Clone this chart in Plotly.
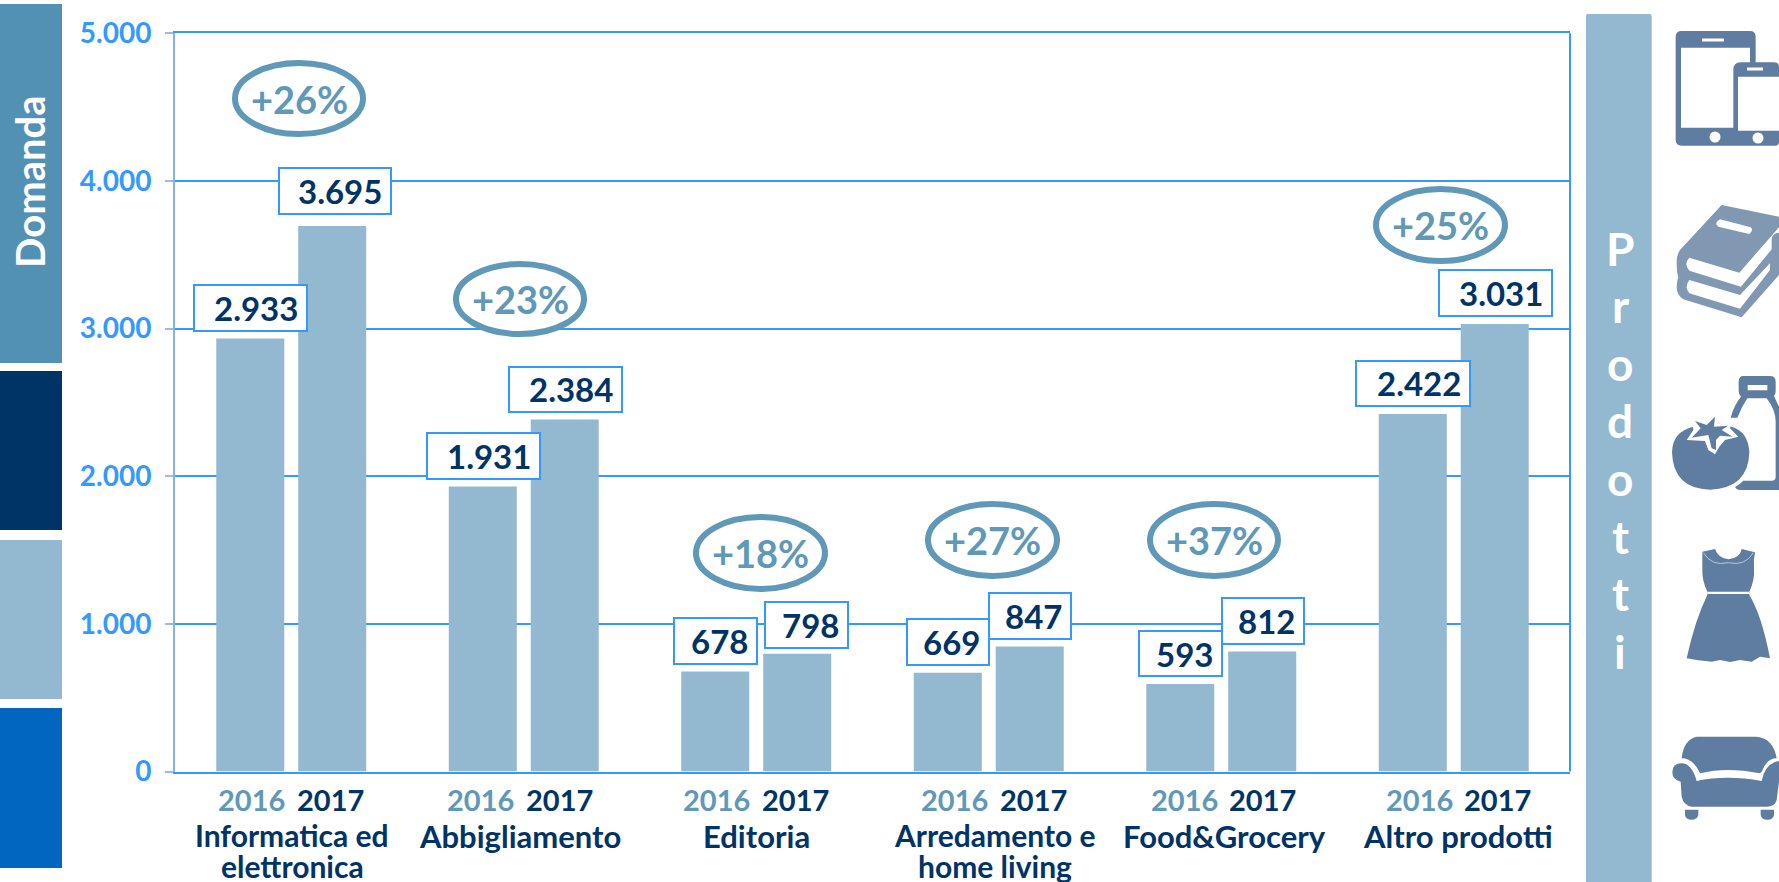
import re
import plotly.graph_objects as go

# ---------- data ----------
categories = ["Informatica ed elettronica", "Abbigliamento", "Editoria",
              "Arredamento e home living", "Food&Grocery", "Altro prodotti"]
category_lines = ["Informatica ed<br>elettronica", "Abbigliamento", "Editoria",
                  "Arredamento e<br>home living", "Food&Grocery", "Altro prodotti"]
values_2016 = [2933, 1931, 678, 669, 593, 2422]
values_2017 = [3695, 2384, 798, 847, 812, 3031]
growth = ["+26%", "+23%", "+18%", "+27%", "+37%", "+25%"]
y_ticks = [0, 1000, 2000, 3000, 4000, 5000]
years = ["2016", "2017"]

# ---------- page geometry (pixels) ----------
W, H = 1779, 882
PLOT_L, PLOT_R, PLOT_T, PLOT_B = 175, 1570, 33.3, 771.5

boxes_2016 = [(194, 307, 285, 331), (427, 540, 433, 479), (674, 757, 618, 664),
              (907, 989, 619, 665), (1139, 1222, 631, 676), (1356, 1470, 361, 406)]
boxes_2017 = [(279, 391, 168, 214), (509, 622, 367, 412), (765, 848, 602, 648),
              (989, 1071, 593, 639), (1222, 1304, 598, 644), (1439, 1552, 270, 316)]
ellipses = [(232, 366, 60, 137), (453, 587, 261, 337), (693, 828, 514, 592),
            (925, 1060, 501, 579), (1147, 1281, 501, 579), (1373, 1508, 186, 264)]
year_x_2016 = [251.5, 480.5, 716.5, 954, 1184, 1419]
year_x_2017 = [330, 559.5, 795.5, 1033, 1262, 1497]
name_x = [292, 520, 756, 995, 1224, 1458]

BLUE, DARK, BAR, TEAL = "#3399FF", "#003366", "#93B9D0", "#6098B8"
ICON, ICON2 = "#5F7DA0", "#8198B3"
FONT = "Lato"


def px(x):
    return x / W


def py(y):
    return 1 - y / H


def pth(d, ox, oy):
    """Crop-space path (3x crop at origin ox, oy) -> paper-space path."""
    def rep(m):
        x = ox + float(m.group(1)) / 3
        y = oy + float(m.group(2)) / 3
        return f"{px(x):.5f},{py(y):.5f}"
    return re.sub(r"(-?[\d.]+),(-?[\d.]+)", rep, d)


shapes = []


def rect(x0, x1, y0, y1, fill, line=None, lw=0):
    shapes.append(dict(type="rect", xref="paper", yref="paper", x0=px(x0), x1=px(x1),
                       y0=py(y1), y1=py(y0), fillcolor=fill,
                       line=dict(color=line or fill, width=lw)))


def path(d, ox, oy, fill, line=None, lw=0):
    shapes.append(dict(type="path", xref="paper", yref="paper", path=pth(d, ox, oy),
                       fillcolor=fill, line=dict(color=line or fill, width=lw)))


annotations = []


def text(x, y, s, size, color, anchor="center", bold=True, angle=0):
    annotations.append(dict(xref="paper", yref="paper", x=px(x), y=py(y), text=f"<b>{s}</b>" if bold else s,
                            showarrow=False, xanchor=anchor, yanchor="middle", textangle=angle,
                            font=dict(family=FONT, size=size, color=color), align="center",
                            borderpad=0, borderwidth=0))


# left colour blocks
for (y0, y1, c) in [(4, 363, "#5290B4"), (371, 530, DARK), (540, 699, BAR), (708, 868, "#0066BF")]:
    rect(0, 62, y0, y1, c)
text(30, 182, "Domanda", 40, "white", angle=-90)

# right frame edge of the plot
shapes.append(dict(type="line", xref="paper", yref="paper", x0=px(PLOT_R), x1=px(PLOT_R),
                   y0=py(PLOT_B), y1=py(PLOT_T), line=dict(color=BLUE, width=2), layer="below"))

# right column
path("M 4,42 L 191,42 Q 197,42 197,48 L 197,2646 L 0,2646 L 0,48 Q 0,42 4,42 Z", 1586, 0, BAR)
for ch, base in zip("Prodotti", [265, 322, 380, 437, 495, 553, 610, 668]):
    text(1620, base - 17, ch, 46, "white")

# value boxes
for vals, bxs in ((values_2016, boxes_2016), (values_2017, boxes_2017)):
    for v, (x0, x1, y0, y1) in zip(vals, bxs):
        rect(x0, x1, y0, y1, "white", BLUE, 2)
        text(x1 - 9, (y0 + y1) / 2, f"{v:,}".replace(",", "."), 33, DARK, anchor="right")

# growth ellipses
for g, (x0, x1, y0, y1) in zip(growth, ellipses):
    shapes.append(dict(type="circle", xref="paper", yref="paper", x0=px(x0 + 3), x1=px(x1 - 3),
                       y0=py(y1 - 3), y1=py(y0 + 3), fillcolor="white",
                       line=dict(color=TEAL, width=6)))
    text((x0 + x1) / 2, (y0 + y1) / 2, g, 38, TEAL)

# year + category labels
for a, b, n, name in zip(year_x_2016, year_x_2017, name_x, category_lines):
    text(a, 799, years[0], 29, TEAL)
    text(b, 799, years[1], 29, DARK)
    if "<br>" in name:
        l1, l2 = name.split("<br>")
        text(n, 835, l1, 30, DARK)
        text(n, 866, l2, 30, DARK)
    else:
        text(n, 836, name, 31, DARK)

# ---- icons (hand-traced silhouettes, crop coordinates) ----
# devices
path("M 545,93 L 750,93 Q 767,93 767,110 L 767,187 L 820,187 Q 837,187 837,200 L 837,425 Q 837,437 825,437 "
     "L 545,437 Q 527,437 527,420 L 527,110 Q 527,93 545,93 Z "
     "M 543,143 L 750,143 L 750,187 L 722,187 Q 700,187 700,210 L 700,383 L 543,383 Z "
     "M 714,230 L 837,230 L 837,392 L 714,392 Z", 1500, 0, ICON)
rect(1702, 1724, 38.5, 41.5, "white")
rect(1747, 1763, 67.5, 70.5, "white")
for cx, cy in [(1715, 137), (1758, 138)]:
    shapes.append(dict(type="circle", xref="paper", yref="paper", x0=px(cx - 5.5), x1=px(cx + 5.5),
                       y0=py(cy + 5.5), y1=py(cy - 5.5), fillcolor="white", line=dict(width=0)))

# books
path("M 185,15 L 357,50 L 357,225 L 245,352 L 70,298 Q 50,285 50,262 Q 50,245 55,232 Q 50,215 50,185 "
     "Q 50,165 60,150 Z", 1660, 200, ICON2)
path("M 88,173 L 238,218 L 357,82 L 357,98 Q 340,98 335,115 L 335,148 L 243,260 L 88,212 Q 70,192 88,173 Z",
     1660, 200, "white")
path("M 88,240 L 240,285 L 330,190 L 330,210 L 240,326 L 88,280 Q 72,260 88,240 Z", 1660, 200, "white")
path("M 180,58 L 272,82 Q 282,90 268,102 L 175,80 Q 160,70 180,58 Z", 1660, 200, "white")

# bottle + tomato
path("M 250,33 L 330,33 Q 347,33 347,50 L 347,78 Q 347,88 342,93 L 357,125 L 357,375 L 240,375 Q 230,375 225,366 "
     "Q 240,358 250,347 L 335,347 Q 347,347 347,335 L 347,170 Q 347,135 320,100 L 262,100 Q 245,125 232,158 "
     "L 212,158 Q 222,120 243,95 Q 236,88 236,78 L 236,50 Q 236,33 250,33 Z "
     "M 263,60 L 322,60 L 322,76 L 263,76 Z", 1660, 365, ICON)
path("M 100,185 Q 37,200 36,262 Q 40,372 150,374 Q 265,370 268,262 Q 265,200 215,185 Q 150,165 100,185 Z",
     1660, 365, ICON)
path("M 95,155 L 140,172 L 165,145 L 178,150 L 172,175 L 215,175 L 210,190 L 235,215 L 195,225 L 178,245 "
     "L 165,268 L 145,255 L 135,228 L 80,225 L 100,195 Z", 1660, 365, "white")
path("M 105,168 L 140,180 L 165,155 L 162,185 L 205,182 L 185,195 L 218,215 L 180,212 L 168,225 L 168,255 "
     "L 155,250 L 145,210 L 95,218 L 122,190 Z", 1660, 365, ICON)

# dress
path("M 97,35 L 135,27 Q 145,55 175,58 Q 210,55 215,27 L 255,37 Q 250,60 252,85 Q 255,120 238,155 L 238,165 "
     "Q 275,225 300,355 L 270,350 L 245,365 L 210,360 L 180,366 L 150,360 L 125,365 L 80,360 L 50,355 "
     "Q 75,240 112,165 L 112,155 Q 95,120 97,85 Z", 1670, 540, ICON)
path("M 112,155 L 238,155 L 238,162 L 112,162 Z", 1670, 540, "white")
shapes.append(dict(type="path", xref="paper", yref="paper",
                   path=pth("M 100,38 Q 125,80 175,68 Q 225,80 250,38", 1670, 540),
                   line=dict(color="#B9C7D8", width=1)))

# sofa
path("M 110,35 L 290,35 Q 340,40 350,100 Q 320,100 305,140 L 300,145 Q 200,125 120,145 Q 100,100 65,100 "
     "Q 70,45 110,35 Z", 1660, 725, ICON)
path("M 65,115 Q 95,115 110,168 Q 200,148 305,168 Q 315,115 357,108 L 357,170 L 350,225 Q 345,245 320,245 "
     "L 95,245 Q 70,240 65,215 L 62,170 Q 37,165 37,142 Q 37,115 65,115 Z", 1660, 725, ICON)
path("M 75,254 L 115,254 L 115,270 Q 112,284 95,284 Q 77,284 75,270 Z", 1660, 725, ICON)
path("M 302,254 L 342,254 L 342,270 Q 340,284 322,284 Q 304,284 302,270 Z", 1660, 725, ICON)

# ---------- figure ----------
fig = go.Figure()
fig.add_bar(name=years[0], x=categories, y=values_2016, marker=dict(color=BAR, line=dict(width=0)))
fig.add_bar(name=years[1], x=categories, y=values_2017, marker=dict(color=BAR, line=dict(width=0)))
fig.update_layout(
    width=W, height=H, autosize=False, margin=dict(l=0, r=0, t=0, b=0, pad=0, autoexpand=False),
    paper_bgcolor="white", plot_bgcolor="white", showlegend=False,
    barmode="group", bargap=0.295, bargroupgap=0.17,
    separators=",.", shapes=shapes, annotations=annotations,
    font=dict(family=FONT),
    xaxis=dict(domain=[px(PLOT_L), px(PLOT_R)], type="category", showticklabels=False, ticks="",
               showline=True, linecolor=BLUE, linewidth=2, mirror=True, showgrid=False, zeroline=False),
    yaxis=dict(domain=[py(PLOT_B), py(PLOT_T)], range=[0, 5000], tickvals=y_ticks, tickformat=",d",
               ticks="outside", ticklen=8, tickwidth=2, tickcolor="#99BBEE", ticklabelstandoff=8,
               tickfont=dict(family=FONT, size=28, color=BLUE, weight="bold"),
               showline=True, linecolor="#85B0F0", linewidth=2,
               showgrid=True, gridcolor=BLUE, gridwidth=2, zeroline=False),
)
fig.write_html("out.html", config=dict(displayModeBar=False),
               post_script="document.body.style.margin='0';document.body.style.overflow='hidden';")
